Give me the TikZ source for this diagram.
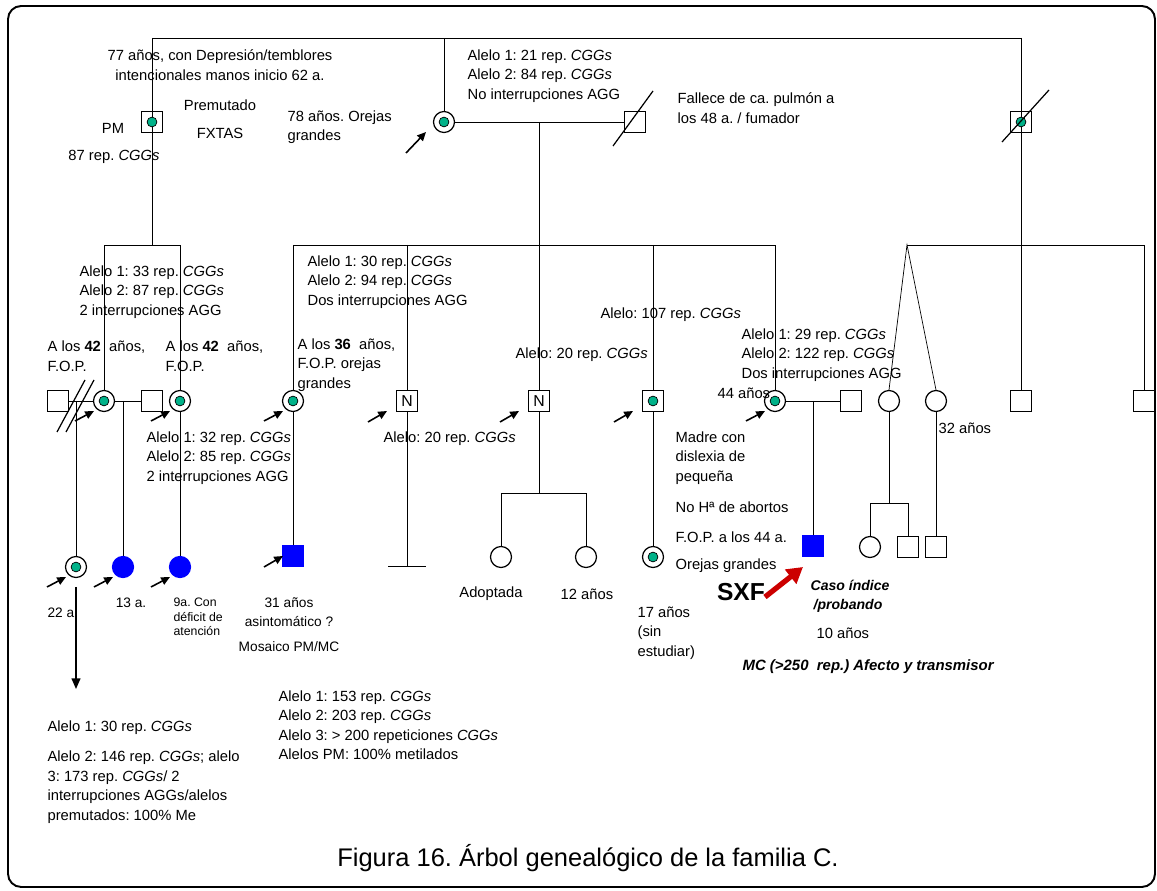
\documentclass[tikz,border=0pt]{standalone}
\usepackage{fontspec}
\setmainfont{Liberation Sans}
\usetikzlibrary{arrows.meta, calc, backgrounds}
\frenchspacing

\definecolor{dotgreen}{RGB}{0,178,137}
\definecolor{sxfred}{RGB}{204,0,0}

\tikzset{
  male/.style={draw, rectangle, minimum size=0.42cm, inner sep=0pt, fill=white, font=\fontsize{9}{9}\selectfont},
  female/.style={draw, circle, minimum size=0.42cm, inner sep=0pt, fill=white},
  carrier/.style={path picture={\filldraw[fill=dotgreen, line width=0.4pt] (path picture bounding box.center) circle (2.8pt);}},
  affected/.style={fill=blue, draw=blue},
  txt/.style={font=\fontsize{8.4}{11.1}\selectfont, inner sep=0pt, align=left},
  smalltxt/.style={font=\fontsize{7.8}{10.8}\selectfont, inner sep=0pt, align=center},
  tinytxt/.style={font=\fontsize{7}{8.3}\selectfont, inner sep=0pt, align=left},
  note/.style={font=\fontsize{8}{11.5}\selectfont\bfseries\itshape, inner sep=0pt, align=left},
  ptr/.style={-{Triangle[length=5pt,width=4.5pt]}, line width=0.9pt},
}

\begin{document}
\begin{tikzpicture}[x=0.02cm, y=-0.02cm, line width=0.7pt]
\useasboundingbox (0,0) rectangle (1157,891);
% Frame
\draw[line width=1.1pt, rounded corners=7.5pt] (8,6) rectangle (1155,887);

% Generation I
\node[male, carrier, fill=none] (gf) at (152,122) {};
\node[female, carrier] (gm) at (444,122) {};
\node[male] (gs) at (635,122) {};
\node[male, carrier, fill=none] (rt) at (1021,122) {};
\coordinate (topL) at (152,38);
\coordinate (topR) at (1021,38);

% Generation II
\node[male] (a1) at (58,401) {};
\node[female, carrier] (a2) at (104,401) {};
\node[male] (a3) at (152,401) {};
\node[female, carrier] (a4) at (180,401) {};
\node[female, carrier] (b1) at (293,401) {};
\node[male] (b2) at (407,401) {N};
\node[male] (b3) at (539,401) {N};
\node[male, carrier] (b4) at (653,401) {};
\node[female, carrier] (b5) at (775,401) {};
\node[male] (b6) at (851,401) {};
\node[female] (c1) at (889,401) {};
\node[female] (c2) at (936,401) {};
\node[male] (c3) at (1021,401) {};
\node[male] (c4) at (1144,401) {};
\coordinate (sibA) at (152,245);
\coordinate (sibB) at (539,245);
\coordinate (twin) at (907,245);

% Generation III
\node[female, carrier] (d1) at (76,567) {};
\node[female, affected] (d2) at (123,567) {};
\node[female, affected] (d3) at (180,567) {};
\node[male, affected] (d4) at (293,556) {};
\node[female] (e1) at (501,557) {};
\node[female] (e2) at (586,557) {};
\node[female, carrier] (e3) at (653,557) {};
\node[male, affected] (e4) at (813,546) {};
\node[female] (f1) at (870,547) {};
\node[male] (f2) at (908,547) {};
\node[male] (f3) at (936,547) {};
\coordinate (nb) at (407,566);
\coordinate (kidsB) at (539,493);
\coordinate (kidsC) at (889,503);

% Lines of descent
\begin{scope}[on background layer]
\draw (topL) -- (topR);
\draw (topL) -- (sibA);
\draw (gm.north) -- (gm.north |- topL);
\draw (gm) -- (gs);
\draw (sibB |- gm) -- (sibB);
\draw (topR) -- (c3.north);
% left branch
\draw (a2.north) -- (a2 |- sibA) -- (a4 |- sibA) -- (d3.north);
\draw (a1) -- (a2);
\draw (a2) -- (a3);
\draw (d1 |- a1) -- (d1.north);
\draw (d2 |- a2) -- (d2.north);
% middle branch
\draw (b1 |- sibB) -- (b5 |- sibB) -- (b5.north);
\draw (b1 |- sibB) -- (d4.north);
\draw (b2 |- sibB) -- (nb);
\draw ($(nb)+(-19,0)$) -- ($(nb)+(19,0)$);
\draw (b3 |- sibB) -- (kidsB);
\draw (e1.north) -- (e1 |- kidsB) -- (e2 |- kidsB) -- (e2.north);
\draw (b4 |- sibB) -- (e3.north);
\draw (b5) -- (b6);
\draw (e4 |- b5) -- (e4.north);
% right branch
\draw (twin) -- (c4 |- twin) -- (c4.north);
\draw (c1.north) -- (twin) -- (c2.north);
\draw (c1.south) -- (kidsC);
\draw (f1.north) -- (f1 |- kidsC) -- (f2 |- kidsC) -- (f2.north);
\draw (c2.south) -- (f3.north);
\end{scope}

% Deceased and divorce marks
\draw ($(gs)+(-22,24)$) -- ($(gs)+(18,-31)$);
\draw ($(rt)+(-19,20)$) -- ($(rt)+(28,-32)$);
\draw (57,432) -- (85,380);
\draw (66,432) -- (94,380);

% Pointers
\draw[ptr] ($(gm)+(-38,31)$) -- ($(gm)+(-18,10)$);
\foreach \n in {a2,a4,b1,b5,d1,d2,d3}
  \draw[ptr] ($(\n)+(-29,20)$) -- ($(\n)+(-10,10)$);
\foreach \n in {b2,b3,b4}
  \draw[ptr] ($(\n)+(-39,21)$) -- ($(\n)+(-20,10)$);
\draw[ptr] ($(d4)+(-29,11)$) -- ($(d4)+(-10,0)$);
\draw[-{Triangle[length=6pt,width=5pt]}, line width=0.9pt] ($(d1)+(0,20)$) -- ($(d1)+(0,122)$);
\draw[sxfred, line width=3pt, -{Triangle[length=9pt,width=10pt]}] ($(e4)+(-48,51)$) -- ($(e4)+(-10,21)$);

% Texts, generation I
\node[txt, align=center] (t1) at (220,65) {77 años, con Depresión/temblores\\intencionales manos inicio 62 a.};
\node[txt] (t2) at (220,105) {Premutado};
\node[txt] (t3) at (220,133) {FXTAS};
\node[txt] (t4) at (113,128) {PM};
\node[txt] (t5) at (114,157) {87 rep. \textit{CGGs}};
\node[txt, anchor=west] (t6) at (287,127) {78 años. Orejas\\grandes};
\node[txt, anchor=west] (t7) at (467,76) {Alelo 1: 21 rep. \textit{CGGs}\\Alelo 2: 84 rep. \textit{CGGs}\\No interrupciones AGG};
\node[txt, anchor=west] (t8) at (677,108) {Fallece de ca. pulmón a\\los 48 a. / fumador};

% Texts, generation II
\node[txt, anchor=west] (t9) at (79,292) {Alelo 1: 33 rep. \textit{CGGs}\\Alelo 2: 87 rep. \textit{CGGs}\\2 interrupciones AGG};
\node[txt, anchor=west] (t10) at (47,356) {A los \textbf{42}\ \ años,\\F.O.P.};
\node[txt, anchor=west] (t11) at (165,356) {A los \textbf{42}\ \ años,\\F.O.P.};
\node[txt, anchor=west] (t12) at (297,365) {A los \textbf{36}\ \ años,\\F.O.P. orejas\\grandes};
\node[txt, anchor=west] (t13) at (146,458) {Alelo 1: 32 rep. \textit{CGGs}\\Alelo 2: 85 rep. \textit{CGGs}\\2 interrupciones AGG};
\node[txt, anchor=west] (t14) at (307,282) {Alelo 1: 30 rep. \textit{CGGs}\\Alelo 2: 94 rep. \textit{CGGs}\\Dos interrupciones AGG};
\node[txt, anchor=west] (t15) at (515,355) {Alelo: 20 rep. \textit{CGGs}};
\node[txt, anchor=west] (t16) at (383,439) {Alelo: 20 rep. \textit{CGGs}};
\node[txt, anchor=west] (t17) at (600,315) {Alelo: 107 rep. \textit{CGGs}};
\node[txt, anchor=west] (t18) at (741,355) {Alelo 1: 29 rep. \textit{CGGs}\\Alelo 2: 122 rep. \textit{CGGs}\\Dos interrupciones AGG};
\node[txt, anchor=west] (t19) at (717,393) {44 años};
\node[txt, anchor=west] (t20) at (675,458) {Madre con\\dislexia de\\pequeña};
\node[txt, anchor=west] (t21) at (675,507) {No Hª de abortos};
\node[txt, anchor=west] (t22) at (675,537) {F.O.P. a los 44 a.};
\node[txt, anchor=west] (t23) at (675,566) {Orejas grandes};
\node[txt, anchor=west] (t32) at (938,428) {32 años};

% Texts, generation III
\node[smalltxt, anchor=west] (t24) at (47,613) {22 a.};
\node[smalltxt] (t25) at (131,603) {13 a.};
\node[tinytxt, anchor=west] (t26) at (173,617) {9a. Con\\déficit de\\atención};
\node[smalltxt] (t27) at (289,612) {31 años\\asintomático ?};
\node[smalltxt] (t28) at (289,647) {Mosaico PM/MC};
\node[txt] (t29) at (491,594) {Adoptada};
\node[txt] (t30) at (587,594) {12 años};
\node[txt, anchor=west] (t31) at (637,633) {17 años\\(sin\\estudiar)};
\node[font=\fontsize{14}{14}\selectfont\bfseries, inner sep=0pt] (sxf) at (741,592) {SXF};
\node[note, anchor=west] (t33) at (810,585) {Caso índice};
\node[note, anchor=west] (t34) at (813,606) {/probando};
\node[txt, anchor=west] (t35) at (816,633) {10 años};
\node[note, font=\fontsize{8.5}{11}\selectfont\bfseries\itshape, anchor=west] (t36) at (742,667) {MC (>250\ \ rep.) Afecto y transmisor};

% Allele notes
\node[txt, anchor=west] (t37) at (47,728) {Alelo 1: 30 rep. \textit{CGGs}};
\node[txt, anchor=west] (t38) at (47,787) {Alelo 2: 146 rep. \textit{CGGs}; alelo\\3: 173 rep. \textit{CGGs}/ 2\\interrupciones AGGs/alelos\\premutados: 100\% Me};
\node[txt, anchor=west] (t39) at (278,725) {Alelo 1: 153 rep. \textit{CGGs}\\Alelo 2: 203 rep. \textit{CGGs}\\Alelo 3: > 200 repeticiones \textit{CGGs}\\Alelos PM: 100\% metilados};

% Caption
\node[font=\fontsize{14.5}{14.5}\selectfont, inner sep=0pt] (cap) at (588,858) {Figura 16. Árbol genealógico de la familia C.};
\end{tikzpicture}
\end{document}
